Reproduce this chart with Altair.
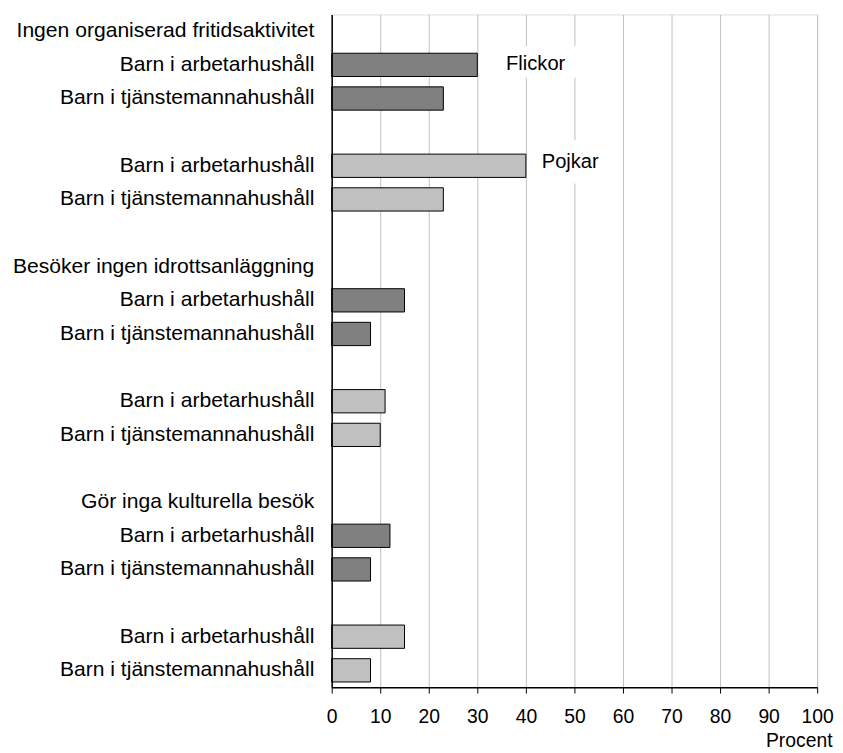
import altair as alt
import pandas as pd

# ---- data ----
groups = ["Ingen organiserad fritidsaktivitet",
          "Besöker ingen idrottsanläggning",
          "Gör inga kulturella besök"]
households = ["Barn i arbetarhushåll", "Barn i tjänstemannahushåll"]
genders = ["Flickor", "Pojkar"]
# per group: (arbetarhushåll, tjänstemannahushåll)
flickor = [30, 23, 15, 8, 12, 8]
pojkar = [40, 23, 11, 10, 15, 8]
x_ticks = [0, 10, 20, 30, 40, 50, 60, 70, 80, 90, 100]
bar_colors = ["#808080", "#c0c0c0"]

# ---- build slot table ----
slot_labels = []
rows = []
for gi, g in enumerate(groups):
    if gi > 0:
        slot_labels.append("")
    slot_labels.append(g)
    for k, (gender, vals) in enumerate(zip(genders, [flickor, pojkar])):
        if k > 0:
            slot_labels.append("")
        for hi, h in enumerate(households):
            rows.append({"slot": len(slot_labels), "label": h, "gender": gender,
                         "value": vals[gi * 2 + hi], "first": gi == 0 and hi == 0})
            slot_labels.append(h)

df = pd.DataFrame(rows)
slots = list(range(len(slot_labels)))
label_expr = "[" + ",".join("'" + s + "'" for s in slot_labels) + "][datum.value]"

FONT = "Liberation Sans"

y_enc = alt.Y("slot:O",
              scale=alt.Scale(domain=slots, paddingInner=0.308, paddingOuter=0.154),
              axis=alt.Axis(title=None, labelExpr=label_expr, ticks=False,
                            labelFontSize=21.3, labelPadding=18, labelLimit=500,
                            labelAlign="right", labelColor="black",
                            domainColor="black", domainWidth=1.5, grid=False,
                            labelFont=FONT))
x_enc = alt.X("value:Q",
              scale=alt.Scale(domain=[0, 100], nice=False),
              axis=alt.Axis(values=x_ticks, title="Procent", grid=True,
                            gridColor="#c0c0c0", gridWidth=1,
                            tickColor="black", tickSize=6, tickWidth=1,
                            domainColor="black", domainWidth=1.5,
                            labelFontSize=19.5, labelPadding=15, labelColor="black",
                            labelFont=FONT, labelFlush=False,
                            titleFontSize=19.5, titleFontWeight="normal", titleFont=FONT,
                            titleColor="black", titleAlign="right", titleX=505,
                            titleY=60, titleBaseline="alphabetic"))

bars = alt.Chart(df).mark_bar(stroke="black", strokeWidth=1).encode(
    x=x_enc,
    y=y_enc,
    color=alt.Color("gender:N", scale=alt.Scale(domain=genders, range=bar_colors),
                    legend=None),
)

ann = df[df["first"]]

box_f = alt.Chart(ann).transform_filter(alt.datum.gender == "Flickor").mark_rect(
    color="white", height=32, yOffset=-3, xOffset=24, x2Offset=104).encode(
    x="value:Q", x2="value:Q", y="slot:O")
box_p = alt.Chart(ann).transform_filter(alt.datum.gender == "Pojkar").mark_rect(
    color="white", height=44, yOffset=-4, xOffset=10, x2Offset=80).encode(
    x="value:Q", x2="value:Q", y="slot:O")

txt_f = alt.Chart(ann).transform_filter(alt.datum.gender == "Flickor").mark_text(
    align="left", baseline="alphabetic", dx=29, dy=5.5, fontSize=20.3, font=FONT,
    color="black").encode(x="value:Q", y="slot:O", text="gender:N")
txt_p = alt.Chart(ann).transform_filter(alt.datum.gender == "Pojkar").mark_text(
    align="left", baseline="alphabetic", dx=16, dy=2.5, fontSize=20.3, font=FONT,
    color="black").encode(x="value:Q", y="slot:O", text="gender:N")

chart = alt.layer(box_f, box_p, bars, txt_f, txt_p).properties(
    width=490, height=679,
    autosize=alt.AutoSizeParams(type="none"),
    padding={"left": 326.7, "top": 3, "right": 18, "bottom": 64},
).configure_view(stroke="black", strokeWidth=1).configure(font=FONT)

chart.save("out.html", embed_options={"renderer": "svg", "actions": False})
